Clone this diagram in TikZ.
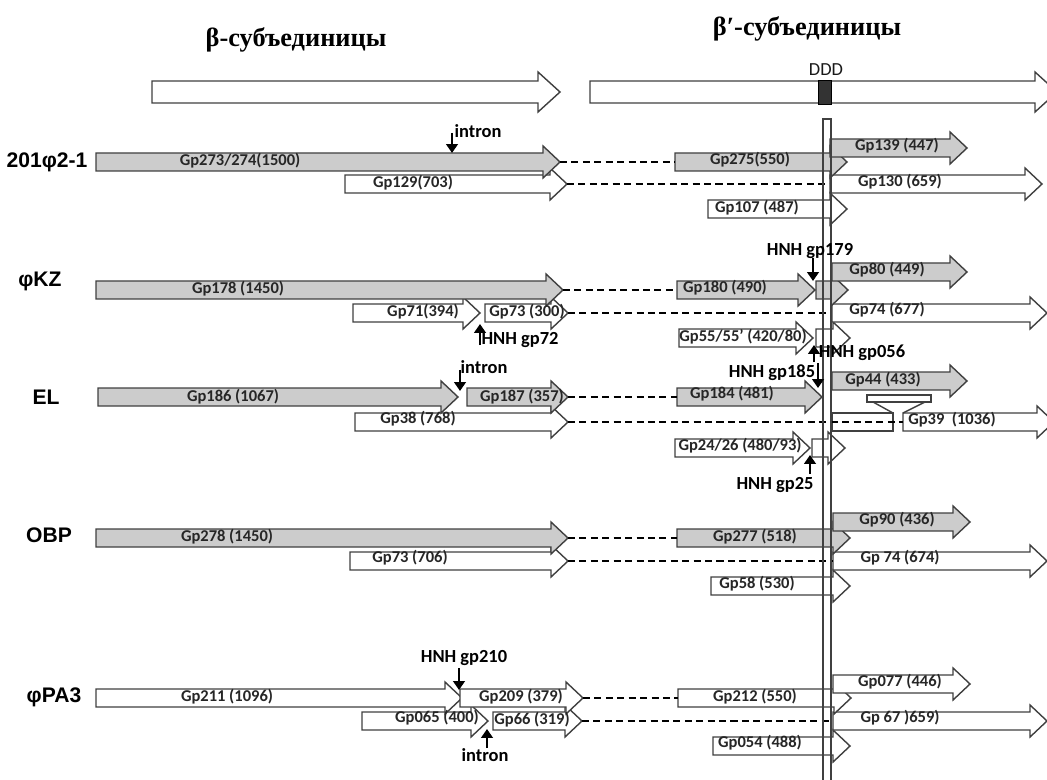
\documentclass[tikz,border=0pt]{standalone}
\usepackage{fontspec}
\setmainfont{Carlito}
\newfontfamily\strainfont{Liberation Sans}
\newfontfamily\titlefont{Liberation Serif}
\usetikzlibrary{arrows.meta}

\begin{document}
\begin{tikzpicture}[x=0.02cm, y=-0.02cm,
    gene/.style={draw=black!75, line width=0.8pt, line join=miter},
    greygene/.style={gene, fill=black!20},
    opengene/.style={gene, fill=white},
    lbl/.style={font=\bfseries\fontsize{9.4}{10}\selectfont, text=black!85, inner sep=0pt},
    note/.style={font=\bfseries\fontsize{10.5}{12}\selectfont, inner sep=0pt},
    strain/.style={font=\strainfont\bfseries\fontsize{12}{14}\selectfont, inner sep=0pt},
    link/.style={dash pattern=on 4pt off 2.5pt, line width=1.2pt},
    hit/.style={-{Triangle[length=5pt,width=6.5pt]}, line width=1.5pt}]
    \useasboundingbox (0,0) rectangle (1047,780);
    \def\bh{11}
    \def\hh{20}
    \def\hl{22}
    \def\gene#1#2#3#4#5{%
      \draw[#5] (#2,#4-\bh) -- (#3-\hl,#4-\bh) -- (#3-\hl,#4-\hh) -- (#3,#4)
        -- (#3-\hl,#4+\hh) -- (#3-\hl,#4+\bh) -- (#2,#4+\bh) -- cycle;
      \coordinate (#1-w) at (#2,#4);
      \coordinate (#1-e) at (#3,#4);}
    % titles
    \node[font=\titlefont\bfseries\fontsize{15}{18}\selectfont] (tb) at (296,40) {β-субъединицы};
    \node[font=\titlefont\bfseries\fontsize{15}{18}\selectfont] (tbp) at (807,29) {β′-субъединицы};
    % whole subunits
    \gene{refb}{152}{560}{92}{opengene}
    \gene{refbp}{590}{1057}{92}{opengene}
    \draw[fill=black!80, draw=black] (818,80) rectangle (831,104);
    \node[font=\fontsize{10.5}{12}\selectfont, text=black!90] (ddd) at (826,70) {DDD};
    \def\bh{9}
    \def\hh{16}
    \def\hl{17}
    % 201phi2-1
    \node[strain] (s1) at (47,162) {201φ2-1};
    \gene{gp107}{708}{847}{209}{opengene}
    \gene{gp130}{830}{1042}{184}{opengene}
    \gene{gp129}{345}{567}{184}{opengene}
    \gene{gp275}{675}{847}{162}{greygene}
    \gene{gp273}{96}{560}{162}{greygene}
    \gene{gp139}{830}{967}{148}{greygene}
    \node[lbl] (l273) at (240,161) {Gp273/274(1500)};
    \node[lbl] (l129) at (413,183) {Gp129(703)};
    \node[lbl] (l275) at (750,160) {Gp275(550)};
    \node[lbl] (l139) at (897,146) {Gp139 (447)};
    \node[lbl] (l130) at (900,182) {Gp130 (659)};
    \node[lbl] (l107) at (757,208) {Gp107 (487)};
    \draw[link] (gp273-e) -- (gp275-w);
    \draw[link] (gp129-e) -- (gp130-w);
    % phiKZ
    \node[strain] (s2) at (40,281) {φKZ};
    \gene{gp55}{679}{813}{338}{opengene}
    \gene{gp55b}{816}{850}{338}{opengene}
    \gene{gp74}{832}{1047}{313}{opengene}
    \gene{gp71}{353}{480}{313}{opengene}
    \gene{gp73}{485}{568}{313}{opengene}
    \gene{gp178}{96}{563}{290}{greygene}
    \gene{gp180}{677}{815}{290}{greygene}
    \gene{gp180b}{816}{848}{290}{greygene}
    \gene{gp80}{832}{967}{272}{greygene}
    \node[lbl] (l178) at (238,289) {Gp178 (1450)};
    \node[lbl] (l71) at (423,312) {Gp71(394)};
    \node[lbl] (l73) at (527,312) {Gp73 (300)};
    \node[lbl] (l180) at (725,288) {Gp180 (490)};
    \node[lbl] (l80) at (887,270) {Gp80 (449)};
    \node[lbl] (l74) at (887,310) {Gp74 (677)};
    \node[lbl] (l55) at (743,337) {Gp55/55’ (420/80)};
    \draw[link] (gp178-e) -- (gp180-w);
    \draw[link] (gp73-e) -- (gp74-w);
    % EL
    \node[strain] (s3) at (46,397) {EL};
    \gene{gp24}{675}{810}{448}{opengene}
    \gene{gp24b}{812}{845}{448}{opengene}
    \draw[opengene] (832,413) rectangle (893,431);
    \coordinate (gp39-w) at (832,422);
    \gene{gp39}{903}{1054}{422}{opengene}
    \draw[opengene] (867,395) rectangle (931,402);
    \draw[gene] (873,402) -- (893,413);
    \draw[gene] (925,402) -- (903,413);
    \gene{gp38}{355}{568}{422}{opengene}
    \gene{gp186}{98}{458}{397}{greygene}
    \gene{gp187}{467}{568}{397}{greygene}
    \gene{gp184}{677}{822}{397}{greygene}
    \gene{gp44}{832}{967}{381}{greygene}
    \node[lbl] (l186) at (233,397) {Gp186 (1067)};
    \node[lbl] (l187) at (522,397) {Gp187 (357)};
    \node[lbl] (l38) at (418,419) {Gp38 (768)};
    \node[lbl] (l184) at (732,394) {Gp184 (481)};
    \node[lbl] (l44) at (883,380) {Gp44 (433)};
    \node[lbl] (l39) at (952,420) {Gp39~~(1036)};
    \node[lbl] (l24) at (740,446) {Gp24/26 (480/93)};
    \draw[link] (gp187-e) -- (gp184-w);
    \draw[link] (gp38-e) -- (gp39-w);
    % OBP
    \node[strain] (s4) at (49,535) {OBP};
    \gene{gp58}{711}{850}{586}{opengene}
    \gene{gp74b}{833}{1047}{561}{opengene}
    \gene{gp73b}{350}{568}{561}{opengene}
    \gene{gp278}{96}{568}{538}{greygene}
    \gene{gp277}{677}{850}{538}{greygene}
    \gene{gp90}{833}{970}{522}{greygene}
    \node[lbl] (l278) at (227,537) {Gp278 (1450)};
    \node[lbl] (l73b) at (410,558) {Gp73 (706)};
    \node[lbl] (l277) at (755,537) {Gp277 (518)};
    \node[lbl] (l90) at (897,520) {Gp90 (436)};
    \node[lbl] (l74b) at (900,558) {Gp 74 (674)};
    \node[lbl] (l58) at (757,584) {Gp58 (530)};
    \draw[link] (gp278-e) -- (gp277-w);
    \draw[link] (gp73b-e) -- (gp74b-w);
    % phiPA3
    \node[strain] (s5) at (54,697) {φPA3};
    \gene{gp054}{713}{850}{746}{opengene}
    \gene{gp67}{833}{1047}{721}{opengene}
    \gene{gp065}{362}{488}{721}{opengene}
    \gene{gp66}{493}{582}{721}{opengene}
    \gene{gp211}{96}{462}{698}{opengene}
    \gene{gp209}{460}{583}{698}{opengene}
    \gene{gp212}{678}{851}{698}{opengene}
    \gene{gp077}{833}{970}{684}{opengene}
    \node[lbl] (l211) at (227,697) {Gp211 (1096)};
    \node[lbl] (l209) at (521,697) {Gp209 (379)};
    \node[lbl] (l065) at (437,718) {Gp065 (400)};
    \node[lbl] (l66) at (532,720) {Gp66 (319)};
    \node[lbl] (l212) at (755,697) {Gp212 (550)};
    \node[lbl] (l077) at (900,682) {Gp077 (446)};
    \node[lbl] (l67) at (900,718) {Gp 67 )659)};
    \node[lbl] (l054) at (760,743) {Gp054 (488)};
    \draw[link] (gp209-e) -- (gp212-w);
    \draw[link] (gp66-e) -- (gp67-w);
    % DDD line
    \draw[gene] (823,119) rectangle (831,782);
    % introns and HNH sites
    \coordinate (i1a) at (452,133);  \coordinate (i1b) at (452,153);
    \coordinate (h72a) at (480,345); \coordinate (h72b) at (480,324);
    \coordinate (h179a) at (813,258); \coordinate (h179b) at (813,281);
    \coordinate (h056a) at (814,362); \coordinate (h056b) at (814,345);
    \coordinate (i2a) at (460,370);  \coordinate (i2b) at (460,391);
    \coordinate (h185a) at (818,363); \coordinate (h185b) at (818,388);
    \coordinate (h25a) at (810,474); \coordinate (h25b) at (810,455);
    \coordinate (h210a) at (459,668); \coordinate (h210b) at (459,690);
    \coordinate (i3a) at (487,748);  \coordinate (i3b) at (487,729);
    \draw[hit] (i1a) -- (i1b);
    \draw[hit] (h72a) -- (h72b);
    \draw[hit] (h179a) -- (h179b);
    \draw[hit] (h056a) -- (h056b);
    \draw[hit] (i2a) -- (i2b);
    \draw[hit] (h185a) -- (h185b);
    \draw[hit] (h25a) -- (h25b);
    \draw[hit] (h210a) -- (h210b);
    \draw[hit] (i3a) -- (i3b);
    \node[note] (n1) at (478,131) {intron};
    \node[note] (n72) at (520,340) {HNH gp72};
    \node[note] (n179) at (810,251) {HNH gp179};
    \node[note] (n056) at (862,353) {HNH gp056};
    \node[note] (n2) at (484,367) {intron};
    \node[note] (n185) at (772,373) {HNH gp185};
    \node[note] (n25) at (775,485) {HNH gp25};
    \node[note] (n210) at (464,658) {HNH gp210};
    \node[note] (n3) at (485,755) {intron};
\end{tikzpicture}
\end{document}
